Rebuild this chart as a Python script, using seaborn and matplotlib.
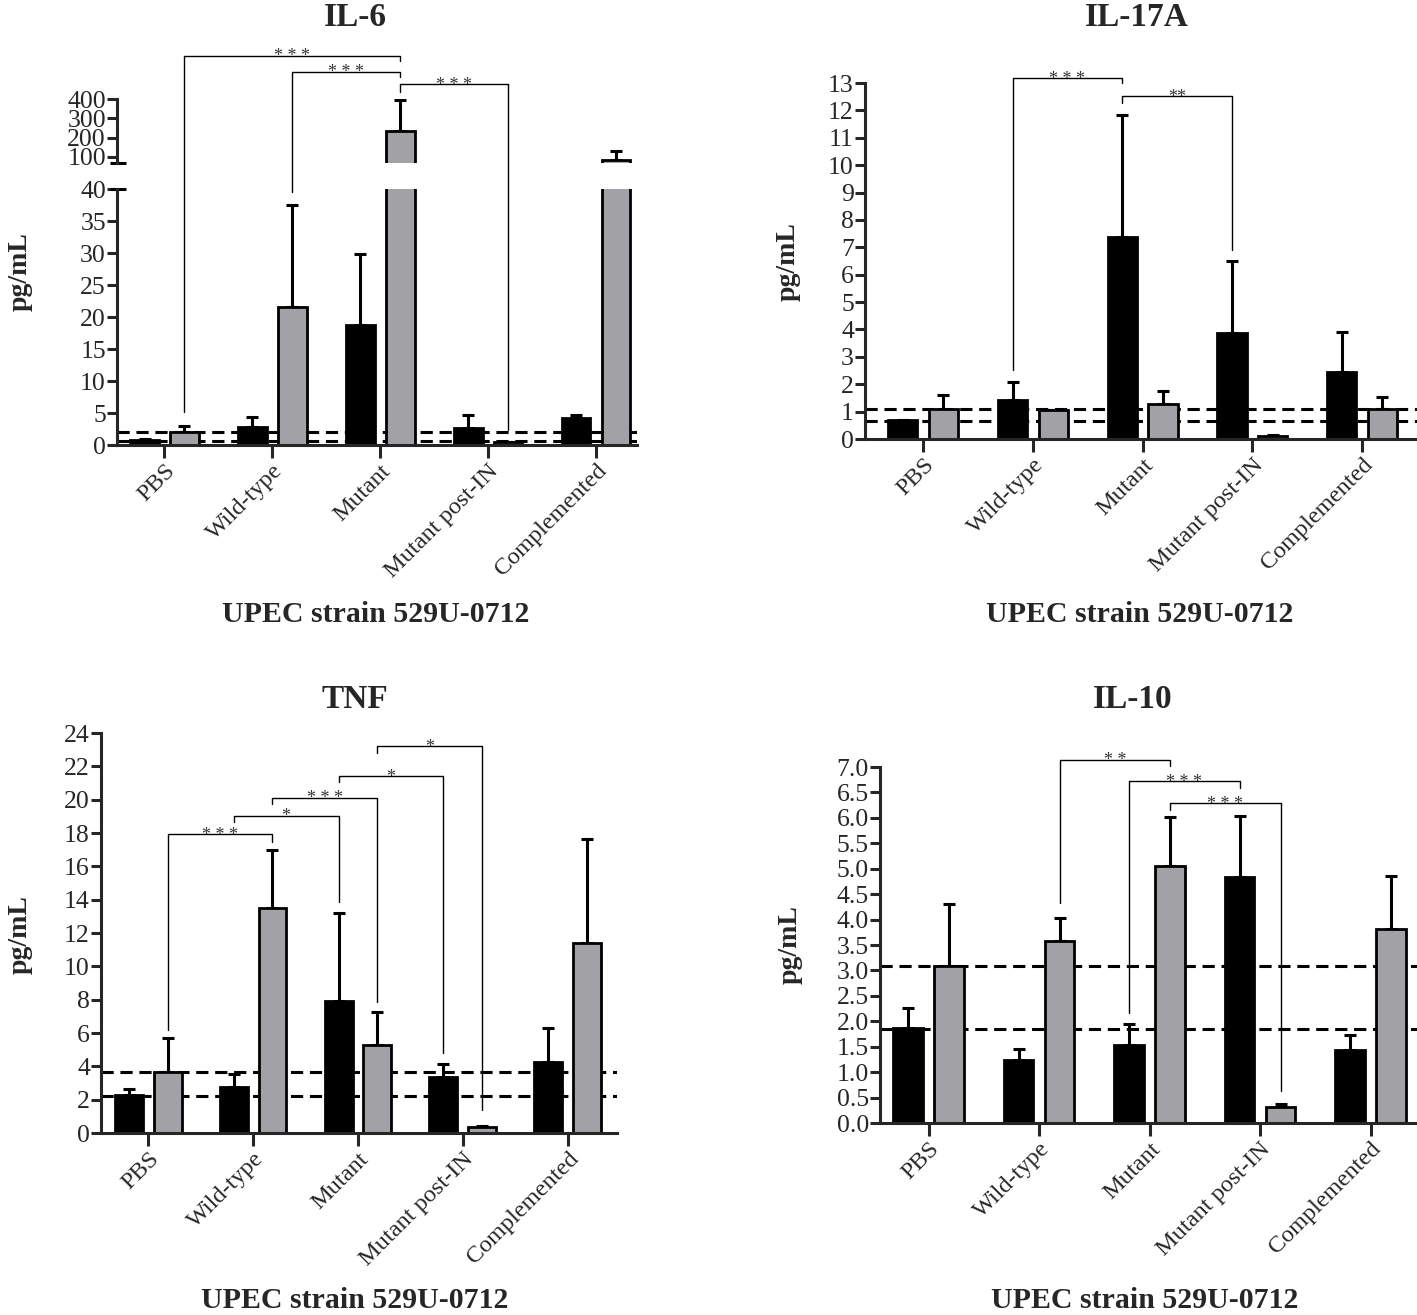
"""Cytokine levels (IL-6, IL-17A, TNF, IL-10) per UPEC strain, grouped bars with cut-off lines."""
import matplotlib
matplotlib.use("Agg")
import matplotlib.pyplot as plt
import pandas as pd
import seaborn as sns

STRAINS = ["PBS", "Wild-type", "Mutant", "Mutant post-IN", "Complemented"]
GROUPS = ["dark", "light"]

# mean values and upper error (SEM) per strain
IL6_DARK = [0.8, 2.8, 18.75, 2.6, 4.2]
IL6_DARK_ERR = [0.1, 1.6, 11.05, 2.1, 0.5]
IL6_LIGHT = [2.1, 21.5, 235.0, 0.4, 86.0]
IL6_LIGHT_ERR = [0.9, 16.0, 160.0, 0.1, 45.0]
IL6_CUTOFFS = [2.0, 0.7]

IL17_DARK = [0.68, 1.41, 7.36, 3.88, 2.45]
IL17_DARK_ERR = [0.02, 0.66, 4.48, 2.63, 1.46]
IL17_LIGHT = [1.11, 1.05, 1.28, 0.12, 1.11]
IL17_LIGHT_ERR = [0.51, 0.02, 0.46, 0.03, 0.41]
IL17_CUTOFFS = [1.08, 0.66]

TNF_DARK = [2.3, 2.74, 7.93, 3.39, 4.25]
TNF_DARK_ERR = [0.36, 0.79, 5.25, 0.74, 2.08]
TNF_LIGHT = [3.69, 13.48, 5.29, 0.36, 11.42]
TNF_LIGHT_ERR = [2.0, 3.52, 1.96, 0.04, 6.25]
TNF_CUTOFFS = [3.69, 2.22]

IL10_DARK = [1.87, 1.23, 1.53, 4.84, 1.44]
IL10_DARK_ERR = [0.40, 0.23, 0.41, 1.20, 0.29]
IL10_LIGHT = [3.09, 3.57, 5.05, 0.32, 3.82]
IL10_LIGHT_ERR = [1.22, 0.46, 0.96, 0.06, 1.03]
IL10_CUTOFFS = [3.08, 1.85]

# significance brackets: (strain a, group a, strain b, group b, line y, left end, right end, stars)
IL6_BRACKETS = [
    ("PBS", "light", "Mutant", "light", 60.8, 5.2, 60.0, "* * *"),
    ("Wild-type", "light", "Mutant", "light", 58.3, 39.5, 57.5, "* * *"),
    ("Mutant", "light", "Mutant post-IN", "light", 56.4, 55.2, 2.3, "* * *"),
]
IL17_BRACKETS = [
    ("Wild-type", "dark", "Mutant", "dark", 13.18, 2.53, 13.0, "* * *"),
    ("Mutant", "dark", "Mutant post-IN", "dark", 12.51, 12.27, 6.9, "**"),
]
TNF_BRACKETS = [
    ("PBS", "light", "Wild-type", "light", 17.93, 6.19, 17.47, "* * *"),
    ("Wild-type", "dark", "Mutant", "dark", 19.03, 18.67, 13.88, "*"),
    ("Wild-type", "light", "Mutant", "light", 20.13, 19.77, 7.89, "* * *"),
    ("Mutant", "dark", "Mutant post-IN", "dark", 21.4, 21.07, 4.79, "*"),
    ("Mutant", "light", "Mutant post-IN", "light", 23.22, 22.82, 1.4, "*"),
]
IL10_BRACKETS = [
    ("Wild-type", "light", "Mutant", "light", 7.14, 4.33, 7.01, "* *"),
    ("Mutant", "dark", "Mutant post-IN", "dark", 6.72, 2.16, 6.59, "* * *"),
    ("Mutant", "light", "Mutant post-IN", "light", 6.29, 6.16, 0.62, "* * *"),
]

GRAY = "#a2a2a6"
W, H = 1417, 1315
LW = 2.2


def frame(dark, dark_err, light, light_err):
    rows = []
    for i, s in enumerate(STRAINS):
        rows.append({"strain": s, "group": "dark", "value": dark[i], "err": dark_err[i]})
        rows.append({"strain": s, "group": "light", "value": light[i], "err": light_err[i]})
    return pd.DataFrame(rows)


def px_axes(fig, left, right, top, bottom):
    return fig.add_axes([left / W, 1 - bottom / H, (right - left) / W, (bottom - top) / H])


def draw_bars(ax, df, xlim):
    sns.barplot(data=df, x="strain", y="value", hue="group", order=STRAINS, hue_order=GROUPS,
                palette={"dark": "black", "light": GRAY}, saturation=1, width=0.74, gap=0.28,
                edgecolor="black", linewidth=2, errorbar=None, legend=False, ax=ax, zorder=2)
    centers = {}
    for p in ax.patches:
        cx = p.get_x() + p.get_width() / 2
        idx = int(round(cx))
        centers[(STRAINS[idx], "dark" if cx < idx else "light")] = cx
    xs = [centers[(r.strain, r.group)] for r in df.itertuples()]
    ax.errorbar(xs, df["value"], yerr=[[0] * len(df), df["err"]], fmt="none", ecolor="black",
                elinewidth=LW, capsize=4.5, capthick=LW, zorder=1.5)
    ax.set_xlim(*xlim)
    ax.set(xlabel="", ylabel="")
    for side in ("top", "right"):
        ax.spines[side].set_visible(False)
    for side in ("left", "bottom"):
        ax.spines[side].set_linewidth(LW)
    ax.tick_params(axis="y", length=7, width=LW, pad=1, labelsize=18.5)
    ax.tick_params(axis="x", length=9, width=LW, pad=2, labelsize=17.5)
    return centers


def finish_x(ax):
    ax.set_xticks(range(len(STRAINS)))
    ax.set_xticklabels(STRAINS, rotation=45, ha="right", rotation_mode="anchor")


def cutoffs(ax, levels):
    for y in levels:
        ax.axhline(y, color="black", lw=LW, ls=(0, (4, 2.2)), zorder=1)


def brackets(ax, centers, specs):
    for a, ga, b, gb, y, yl, yr, label in specs:
        x0, x1 = centers[(a, ga)], centers[(b, gb)]
        ax.plot([x0, x0, x1, x1], [yl, y, y, yr], color="black", lw=1.0, clip_on=False, zorder=5)
        ax.annotate(label, ((x0 + x1) / 2, y), xytext=(0, -4), textcoords="offset points",
                    ha="center", va="baseline", fontsize=13, color="#333333", annotation_clip=False)


def labels(fig, title, tx, ty, ylab_x, ylab_y, xl_x, xl_y):
    fig.text(tx / W, 1 - ty / H, title, ha="center", va="center", fontsize=24, fontweight="bold")
    fig.text(ylab_x / W, 1 - ylab_y / H, "pg/mL", ha="center", va="center", rotation=90,
             fontsize=20, fontweight="bold")
    fig.text(xl_x / W, 1 - xl_y / H, "UPEC strain 529U-0712", ha="center", va="center",
             fontsize=21.5, fontweight="bold")


def main() -> None:
    sns.set_style("ticks")
    plt.rcParams["font.family"] = ["Liberation Serif", "DejaVu Serif"]
    fig = plt.figure(figsize=(W / 100, H / 100), dpi=100)

    # IL-6 with broken y axis
    il6 = frame(IL6_DARK, IL6_DARK_ERR, IL6_LIGHT, IL6_LIGHT_ERR)
    lower = px_axes(fig, 117, 637, 189, 445)
    upper = px_axes(fig, 117, 637, 99, 163)
    upper.patch.set_visible(False)
    centers = draw_bars(lower, il6, (-0.44, 4.38))
    lower.set_ylim(0, 40)
    lower.set_yticks(range(0, 41, 5))
    finish_x(lower)
    cutoffs(lower, IL6_CUTOFFS)
    draw_bars(upper, il6, (-0.44, 4.38))
    upper.set_ylim(68, 400)
    upper.set_yticks([100, 200, 300, 400])
    upper.spines["bottom"].set_visible(False)
    upper.tick_params(axis="x", bottom=False, labelbottom=False)
    for ax, y in ((lower, 1.0), (upper, 0.0)):
        ax.plot([-0.014, 0.018], [y, y], transform=ax.transAxes, color="black", lw=LW,
                clip_on=False, solid_capstyle="butt")
    brackets(lower, centers, IL6_BRACKETS)
    labels(fig, "IL-6", 355, 18, 20, 272, 376, 615)

    # IL-17A
    ax = px_axes(fig, 865, 1417, 83, 439)
    centers = draw_bars(ax, frame(IL17_DARK, IL17_DARK_ERR, IL17_LIGHT, IL17_LIGHT_ERR), (-0.53, 4.5))
    ax.set_ylim(0, 13)
    ax.set_yticks(range(0, 14))
    finish_x(ax)
    cutoffs(ax, IL17_CUTOFFS)
    brackets(ax, centers, IL17_BRACKETS)
    labels(fig, "IL-17A", 1137, 18, 788, 262, 1140, 615)

    # TNF
    ax = px_axes(fig, 101, 617, 733, 1133)
    centers = draw_bars(ax, frame(TNF_DARK, TNF_DARK_ERR, TNF_LIGHT, TNF_LIGHT_ERR), (-0.45, 4.47))
    ax.set_ylim(0, 24)
    ax.set_yticks(range(0, 25, 2))
    finish_x(ax)
    cutoffs(ax, TNF_CUTOFFS)
    brackets(ax, centers, TNF_BRACKETS)
    labels(fig, "TNF", 355, 700, 20, 935, 355, 1300)

    # IL-10
    ax = px_axes(fig, 880, 1417, 767, 1123)
    centers = draw_bars(ax, frame(IL10_DARK, IL10_DARK_ERR, IL10_LIGHT, IL10_LIGHT_ERR), (-0.44, 4.42))
    ax.set_ylim(0, 7)
    ax.set_yticks([i / 2 for i in range(15)])
    ax.set_yticklabels([f"{i / 2:.1f}" for i in range(15)])
    finish_x(ax)
    cutoffs(ax, IL10_CUTOFFS)
    brackets(ax, centers, IL10_BRACKETS)
    labels(fig, "IL-10", 1133, 700, 790, 945, 1145, 1300)

    fig.savefig("out.png", dpi=100)
    plt.close(fig)


if __name__ == "__main__":
    main()
